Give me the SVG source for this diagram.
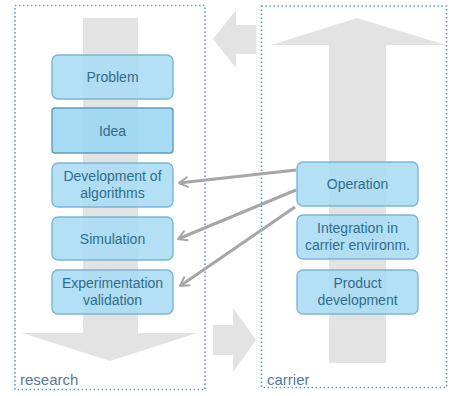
<svg xmlns="http://www.w3.org/2000/svg" width="449" height="396" viewBox="0 0 449 396">
<defs>
<style>
.frame{fill:none;stroke:#5b9bc4;stroke-width:1.6;stroke-dasharray:1.4 2.6}
.big{fill:#e3e3e3}
.node rect{fill:#a9dcf3;fill-opacity:0.88;stroke:#7bb6d3;stroke-width:1.4}
.node.hl rect{fill:#9ad6f3;stroke:#5d9cbf}
.node text{font-family:"Liberation Sans",Arial,sans-serif;font-size:14px;fill:#2f6d8e;text-anchor:middle}
.lbl{font-family:"Liberation Sans",Arial,sans-serif;font-size:15px;fill:#55799a}
.conn{stroke:#a6a6a6;stroke-width:3;fill:none;marker-end:url(#ah)}
</style>
<marker id="ah" viewBox="0 0 10 10" refX="8" refY="5" markerWidth="4" markerHeight="4" orient="auto" markerUnits="strokeWidth">
<path d="M1,1 L8,5 L1,9" fill="none" stroke="#a6a6a6" stroke-width="1.6" stroke-linecap="round" stroke-linejoin="round"/>
</marker>
</defs>
<rect width="449" height="396" fill="#ffffff"/>
<g id="research-frame">
<rect class="frame" x="15" y="5.5" width="190" height="384"/>
<text class="lbl" x="20" y="385">research</text>
</g>
<g id="carrier-frame">
<rect class="frame" x="261.5" y="6" width="185" height="381.5"/>
<text class="lbl" x="267" y="385">carrier</text>
</g>
<g id="big-arrows">
<polygon class="big" points="83,18 138,18 138,333 197,333 110,361 22,333 83,333"/>
<polygon class="big" points="329,363 386,363 386,45 446,45 357,18 271,45 329,45"/>
<polygon class="big" points="256,25 236,25 236,10 213,39 236,68 236,54 256,54"/>
<polygon class="big" points="213,325 233,325 233,308 256,340 233,372 233,355 213,355"/>
</g>
<g id="n-problem" class="node"><rect x="52" y="55" width="121" height="44" rx="6"/><text x="112.5" y="82">Problem</text></g>
<g id="n-idea" class="node hl"><rect x="52" y="108" width="121" height="45" rx="3"/><text x="112.5" y="135.5">Idea</text></g>
<g id="n-dev" class="node"><rect x="52" y="163" width="121" height="44" rx="6"/><text x="112.5" y="181">Development of</text><text x="112.5" y="198">algorithms</text></g>
<g id="n-sim" class="node"><rect x="52" y="217" width="121" height="43" rx="6"/><text x="112.5" y="243.5">Simulation</text></g>
<g id="n-exp" class="node"><rect x="52" y="270" width="121" height="44" rx="6"/><text x="112.5" y="288">Experimentation</text><text x="112.5" y="305">validation</text></g>
<g id="n-op" class="node"><rect x="297" y="162" width="121" height="44" rx="6"/><text x="357.5" y="189">Operation</text></g>
<g id="n-int" class="node"><rect x="297" y="215" width="121" height="44" rx="6"/><text x="357.5" y="233">Integration in</text><text x="357.5" y="250">carrier environm.</text></g>
<g id="n-prod" class="node"><rect x="297" y="270" width="121" height="44" rx="6"/><text x="357.5" y="288">Product</text><text x="357.5" y="305">development</text></g>
<g id="connectors">
<line class="conn" x1="296" y1="170" x2="179" y2="183"/>
<line class="conn" x1="296" y1="190" x2="178" y2="239"/>
<line class="conn" x1="295" y1="207" x2="180" y2="286"/>
</g>
</svg>
